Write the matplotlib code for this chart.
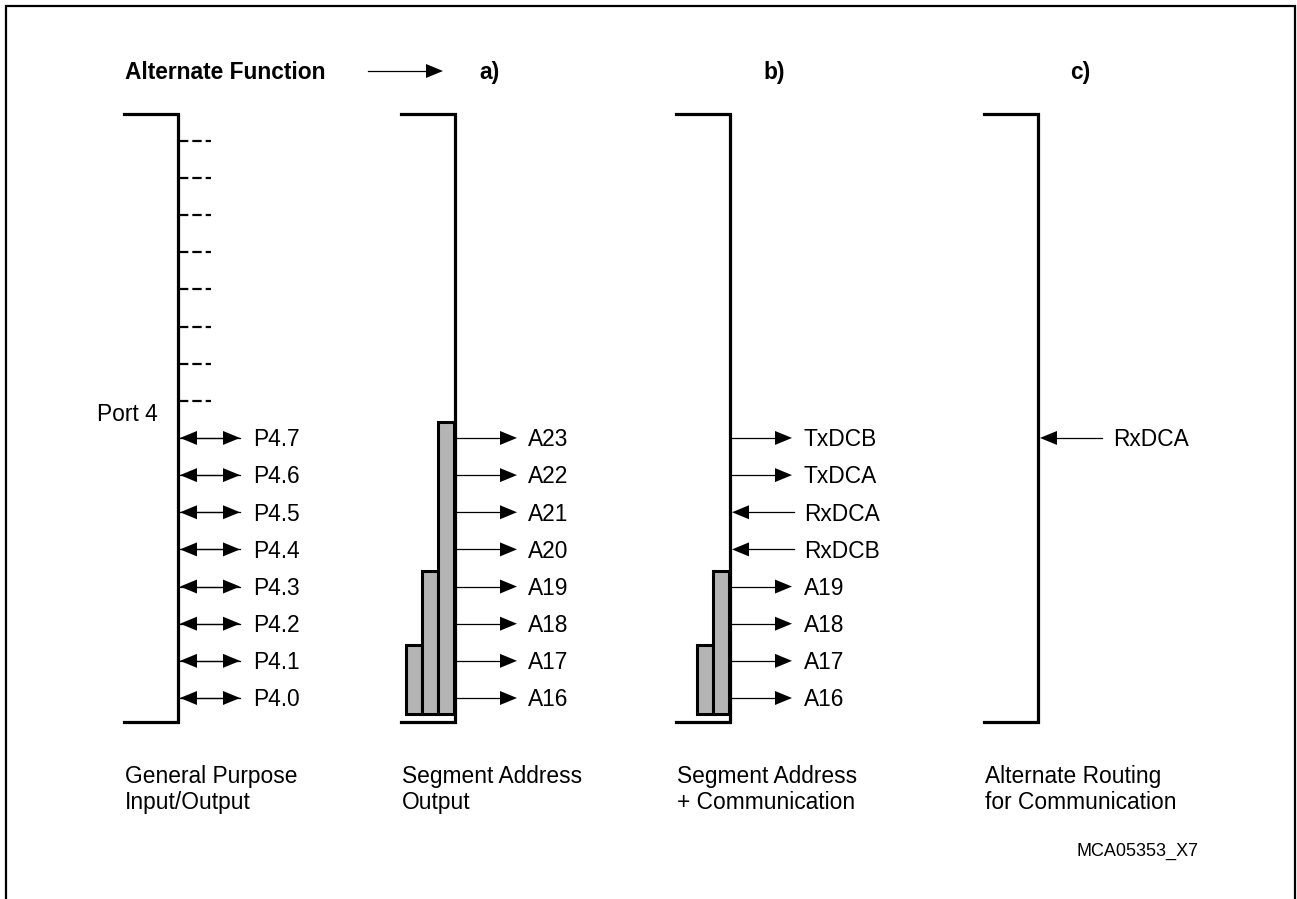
import matplotlib
matplotlib.use("Agg")
import matplotlib.pyplot as plt
from matplotlib.patches import Polygon, Rectangle

plt.rcParams['font.family'] = ['Liberation Sans', 'DejaVu Sans']

# signals per column, listed from bit 0 (bottom row) upwards
gpio_pins = ['P4.0', 'P4.1', 'P4.2', 'P4.3', 'P4.4', 'P4.5', 'P4.6', 'P4.7']
seg_addr = ['A16', 'A17', 'A18', 'A19', 'A20', 'A21', 'A22', 'A23']
seg_comm = ['A16', 'A17', 'A18', 'A19', 'RxDCB', 'RxDCA', 'TxDCA', 'TxDCB']
seg_comm_dir = ['out', 'out', 'out', 'out', 'in', 'in', 'out', 'out']
alt_route = {7: 'RxDCA'}

# address widths shown as grey bars (number of bits)
bars_a = [2, 4, 8]
bars_b = [2, 4]

headers = ['a)', 'b)', 'c)']
captions = [('General Purpose', 'Input/Output'),
            ('Segment Address', 'Output'),
            ('Segment Address', '+ Communication'),
            ('Alternate Routing', 'for Communication')]

# layout (pixel coordinates)
W, H = 1297, 899
bracket_x = [178, 455, 730, 1038]
top_y, bot_y = 114, 722
row0_y, row_step = 698, 37.15
fs = 16.4

fig = plt.figure(figsize=(W / 100, H / 100), dpi=100)
ax = fig.add_axes([0, 0, 1, 1])
ax.set_xlim(0, W)
ax.set_ylim(H, 0)
ax.axis('off')


def row_y(i):
    return row0_y - i * row_step


def head(tip_x, y, direction):
    # direction +1 points right, -1 points left
    L, hw = 17, 7
    ax.add_patch(Polygon([(tip_x, y), (tip_x - direction * L, y - hw),
                          (tip_x - direction * L, y + hw)],
                         closed=True, color='black', lw=0))


def arrow(x0, x1, y, both=False):
    d = 1 if x1 > x0 else -1
    ax.plot([x0, x1 - d * 10], [y, y], color='black', lw=0.9)
    head(x1, y, d)
    if both:
        ax.plot([x0 + d * 10, x1], [y, y], color='black', lw=0.9)
        head(x0, y, -d)


def label(x, y, s, size=fs, weight='normal', ha='left'):
    ax.text(x, y + 8.3, s, fontsize=size, fontweight=weight,
            ha=ha, va='baseline')


# frame
ax.plot([6, 6, 1295, 1295], [H + 5, 6, 6, H + 5], color='black', lw=1.6,
        solid_joinstyle='miter')

# brackets
for bx in bracket_x:
    ax.plot([bx - 54, bx, bx, bx - 54], [top_y, top_y, bot_y, bot_y],
            color='black', lw=2.3, solid_joinstyle='miter')

# column 1: general purpose I/O
bx = bracket_x[0]
for i in range(8, 16):
    ax.plot([bx + 1, bx + 33], [row_y(i), row_y(i)], color='black', lw=1.6,
            linestyle=(0, (4.2, 1.8)))
for i, name in enumerate(gpio_pins):
    arrow(bx + 2, bx + 62, row_y(i), both=True)
    label(bx + 75, row_y(i), name)
label(158, 413, 'Port 4', ha='right')


def draw_bars(bx, bits):
    w = 16
    n = len(bits)
    for k, b in enumerate(bits):
        x = bx - 1 - (n - k) * w
        top = row_y(b - 1) - 16
        ax.add_patch(Rectangle((x, top), w, 714 - top, facecolor='#b4b4b4',
                               edgecolor='black', lw=2.2, joinstyle='miter'))


# column a
bx = bracket_x[1]
draw_bars(bx, bars_a)
for i, name in enumerate(seg_addr):
    arrow(bx + 1, bx + 62, row_y(i))
    label(bx + 73, row_y(i), name)

# column b
bx = bracket_x[2]
draw_bars(bx, bars_b)
for i, (name, d) in enumerate(zip(seg_comm, seg_comm_dir)):
    if d == 'out':
        arrow(bx + 1, bx + 62, row_y(i))
    else:
        arrow(bx + 64, bx + 2, row_y(i))
    label(bx + 74, row_y(i), name)

# column c
bx = bracket_x[3]
for i, name in alt_route.items():
    arrow(bx + 64, bx + 2, row_y(i))
    label(bx + 75, row_y(i), name)

# headers
label(125, 71, 'Alternate Function', weight='bold')
arrow(368, 443, 71)
for x, h in zip([479, 763, 1070], headers):
    label(x, 71, h, weight='bold')

# captions
for bx, (l1, l2) in zip(bracket_x, captions):
    ax.text(bx - 53, 783, l1, fontsize=fs, ha='left', va='baseline')
    ax.text(bx - 53, 809, l2, fontsize=fs, ha='left', va='baseline')

ax.text(1076, 856, 'MCA05353_X7', fontsize=13, ha='left', va='baseline')

fig.savefig('out.png', dpi=100)
